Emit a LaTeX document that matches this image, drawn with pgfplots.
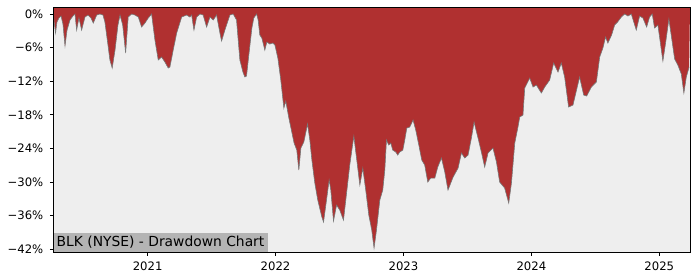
\documentclass[border=0pt]{standalone}
\usepackage{fontspec}
\setmainfont{DejaVu Sans}
\usepackage{pgfplots}
\pgfplotsset{compat=1.18}
\usepackage{pgfplotstable}
\usepgfplotslibrary{fillbetween}
\definecolor{ddred}{RGB}{176,48,48}
\definecolor{bggray}{RGB}{238,238,238}
\definecolor{boxgray}{RGB}{180,180,180}
\definecolor{edgegray}{RGB}{120,120,120}

\pgfplotstableread{
x y
2020.2625 0
2020.272 -1.96
2020.280 -3.39
2020.291 -1.43
2020.307 -0.71
2020.323 -0.36
2020.338 -1.79
2020.354 -5.71
2020.370 -2.86
2020.393 -1.07
2020.416 -0.36
2020.432 0
2020.445 -2.86
2020.463 -0.71
2020.484 -2.86
2020.510 -0.54
2020.534 -0.18
2020.557 -0.71
2020.575 -1.61
2020.602 -0.18
2020.627 0
2020.651 -0.18
2020.666 -1.43
2020.690 -5.54
2020.705 -8.21
2020.723 -9.64
2020.745 -6.43
2020.768 -1.96
2020.784 -0.18
2020.805 -1.96
2020.828 -6.96
2020.848 -0.54
2020.875 0
2020.901 -0.18
2020.927 -0.54
2020.953 -2.32
2020.979 -1.61
2021.005 -0.71
2021.031 0
2021.057 -4.64
2021.083 -8.21
2021.109 -7.68
2021.135 -8.57
2021.161 -9.64
2021.174 -9.46
2021.200 -6.43
2021.227 -3.39
2021.266 -0.54
2021.305 -0.18
2021.330 -0.54
2021.344 -0.18
2021.362 -2.86
2021.383 -0.54
2021.409 0
2021.434 -0.18
2021.461 -2.32
2021.487 -0.54
2021.513 -1.07
2021.539 -0.18
2021.565 -3.39
2021.578 -4.82
2021.604 -2.86
2021.643 -0.18
2021.669 0
2021.695 -1.07
2021.721 -8.21
2021.745 -10.36
2021.760 -11.25
2021.773 -11.07
2021.791 -7.32
2021.815 -2.5
2021.830 -0.71
2021.852 0
2021.864 -1.07
2021.877 -3.75
2021.893 -4.29
2021.916 -6.43
2021.932 -5.0
2021.955 -5.36
2021.979 -5.18
2021.995 -5.54
2022.018 -7.86
2022.041 -11.79
2022.065 -16.79
2022.080 -15.54
2022.104 -18.57
2022.127 -21.07
2022.145 -23.04
2022.166 -24.29
2022.182 -27.86
2022.198 -23.93
2022.221 -22.86
2022.250 -19.64
2022.268 -22.5
2022.284 -26.07
2022.307 -30.18
2022.330 -33.21
2022.362 -36.25
2022.375 -37.14
2022.393 -34.11
2022.419 -29.64
2022.432 -31.43
2022.453 -36.96
2022.477 -34.11
2022.502 -35.0
2022.531 -36.79
2022.549 -33.21
2022.580 -26.96
2022.612 -21.79
2022.635 -26.07
2022.659 -30.54
2022.682 -27.5
2022.705 -31.43
2022.729 -35.89
2022.752 -38.57
2022.770 -41.79
2022.789 -38.57
2022.815 -33.21
2022.838 -31.43
2022.854 -27.86
2022.867 -22.5
2022.885 -23.39
2022.901 -23.04
2022.916 -24.29
2022.940 -24.64
2022.955 -25.18
2022.971 -24.64
2022.995 -24.29
2023.010 -22.5
2023.026 -20.36
2023.049 -20.18
2023.075 -18.93
2023.096 -20.71
2023.120 -23.39
2023.143 -26.07
2023.166 -26.96
2023.190 -30.0
2023.213 -29.29
2023.245 -29.29
2023.268 -27.32
2023.297 -25.71
2023.323 -28.21
2023.348 -31.43
2023.388 -29.11
2023.427 -27.5
2023.453 -24.82
2023.479 -25.71
2023.505 -25.18
2023.531 -22.14
2023.552 -19.29
2023.583 -22.14
2023.609 -24.64
2023.635 -27.32
2023.661 -24.82
2023.700 -23.93
2023.727 -26.43
2023.752 -30.0
2023.791 -31.07
2023.823 -33.75
2023.844 -30.18
2023.870 -23.04
2023.895 -20.18
2023.909 -18.39
2023.934 -18.04
2023.948 -13.21
2023.987 -11.43
2024.013 -13.04
2024.039 -12.68
2024.078 -14.11
2024.104 -13.04
2024.143 -11.79
2024.174 -8.75
2024.208 -10.36
2024.234 -8.75
2024.260 -11.25
2024.291 -16.61
2024.325 -16.25
2024.377 -11.25
2024.409 -14.46
2024.432 -14.64
2024.469 -13.04
2024.508 -12.14
2024.534 -7.68
2024.559 -6.07
2024.580 -4.11
2024.598 -5.18
2024.627 -3.75
2024.651 -1.96
2024.674 -1.43
2024.703 -0.54
2024.729 0
2024.755 -0.36
2024.781 0
2024.820 -2.86
2024.846 -0.36
2024.872 -0.71
2024.901 -2.32
2024.924 -0.54
2024.945 0
2024.963 -2.5
2024.989 -1.96
2025.028 -8.39
2025.049 -5.18
2025.075 -0.89
2025.102 -5.18
2025.120 -8.04
2025.145 -9.11
2025.172 -10.71
2025.192 -14.11
2025.211 -11.25
2025.233 -9.46
}\ddtable

\begin{document}
\begin{tikzpicture}
\begin{axis}[
  name=ax,
  scale only axis,
  width=636.7bp, height=245bp,
  xmin=2020.2625, xmax=2025.24,
  ymin=-42.54, ymax=1.2,
  axis background/.style={fill=bggray},
  xtick={2021,2022,2023,2024,2025},
  xticklabels={2021,2022,2023,2024,2025},
  ytick={-42,-36,-30,-24,-18,-12,-6,0},
  yticklabels={−42\%,−36\%,−30\%,−24\%,−18\%,−12\%,−6\%,0\%},
  tick align=outside,
  tick pos=left,
  major tick length=3.5bp,
  ticklabel style={font=\fontsize{11.7}{14}\selectfont},
  yticklabel style={xshift=-3bp},
  xticklabel style={yshift=-3bp},
  axis line style={line width=0.8bp},
  every tick/.style={black, line width=0.8bp},
  axis on top,
]
\addplot[name path=dd, draw=none] table {\ddtable};
\addplot[name path=top, draw=none] coordinates {(2020.2625,1.2) (2025.24,1.2)};
\addplot[ddred] fill between[of=dd and top];
\addplot[edgegray, line width=0.6bp] table {\ddtable};
\node[fill=boxgray, anchor=south west, inner xsep=3.2bp, inner ysep=0pt,
      minimum height=19bp, font=\fontsize{13.9}{16}\selectfont]
      at (rel axis cs:0,0) {BLK (NYSE) - Drawdown Chart};
\end{axis}
\pgfresetboundingbox
\path ([shift={(-53.3bp,-27.7bp)}]ax.south west) rectangle ++(700bp,280bp);
\end{tikzpicture}
\end{document}
